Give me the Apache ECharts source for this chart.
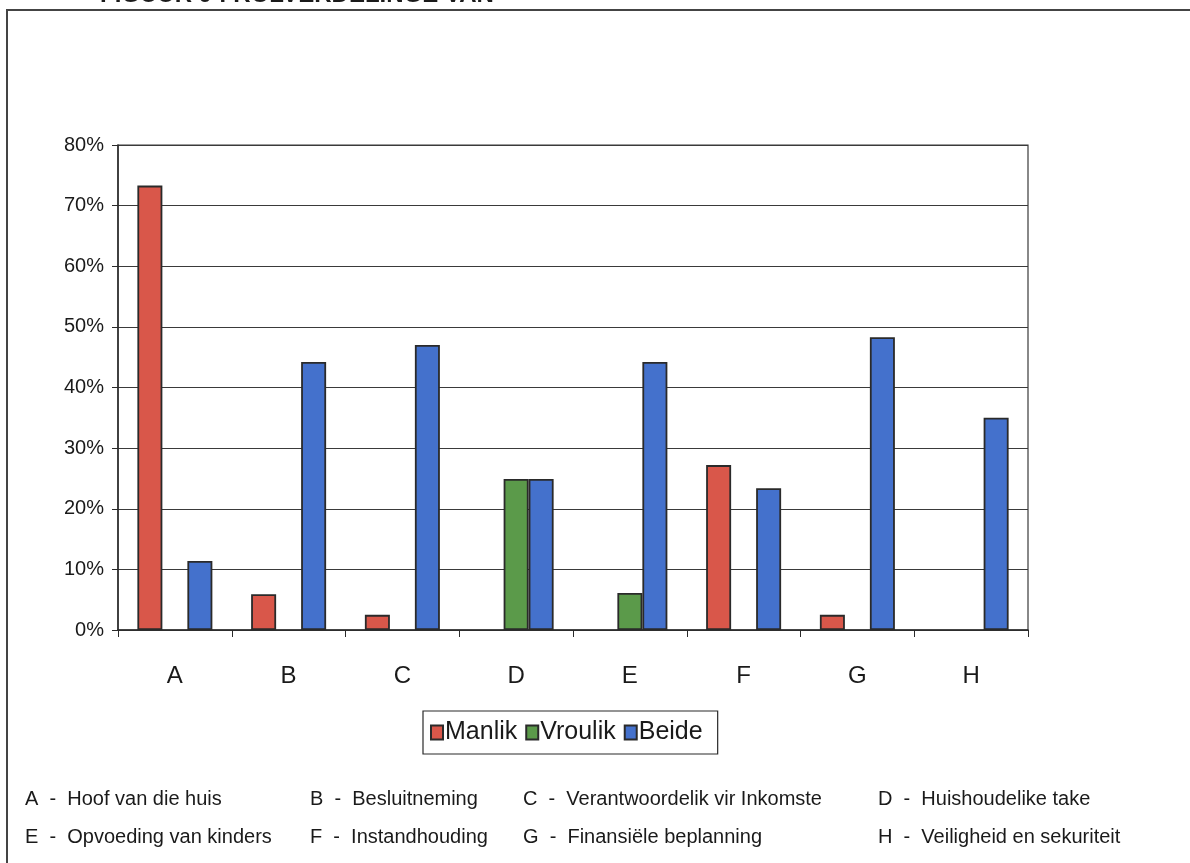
<!DOCTYPE html>
<html><head><meta charset="utf-8">
<script src="https://cdn.jsdelivr.net/npm/echarts@6/dist/echarts.min.js"></script>
<style>html,body{margin:0;padding:0;background:#fff}#c{width:1190px;height:863px}</style>
</head><body><div id="c"></div>
<script>
const categories = ['A','B','C','D','E','F','G','H'];
const manlik  = [73.3, 5.9, 2.5, null, null, 27.2, 2.5, null];
const vroulik = [null, null, null, 24.9, 6.1, null, null, null];
const beide   = [11.4, 44.2, 47.0, 24.9, 44.2, 23.4, 48.3, 35.0];
const yTicks = [0,10,20,30,40,50,60,70,80];
const descriptions = [
  'A  -  Hoof van die huis', 'B  -  Besluitneming', 'C  -  Verantwoordelik vir Inkomste', 'D  -  Huishoudelike take',
  'E  -  Opvoeding van kinders', 'F  -  Instandhouding', 'G  -  Finansiële beplanning', 'H  -  Veiligheid en sekuriteit'
];
const titleText = 'FIGUUR 9 : ROLVERDELINGE VAN';

const chart = echarts.init(document.getElementById('c'));
const font = '"Liberation Sans", Arial, sans-serif';
const colX = [25, 310, 523, 878];
const rowY = [801, 839];
const descGraphics = descriptions.map((t, i) => ({
  type: 'text', left: colX[i % 4], top: rowY[Math.floor(i / 4)] - 12,
  style: { text: t, fill: '#1a1a1a', font: '20px ' + font }
}));
const bar = (name, data, color) => ({
  name, type: 'bar', data, barWidth: 25, barGap: '0%',
  itemStyle: { color, borderColor: '#2a2a2a', borderWidth: 1.8 }
});
chart.setOption({
  animation: false,
  textStyle: { fontFamily: font },
  grid: { left: 118, right: 162, top: 145, bottom: 233, show: true, borderColor: '#3a3a3a', borderWidth: 1.2 },
  xAxis: {
    type: 'category', data: categories,
    axisLine: { lineStyle: { color: '#2a2a2a', width: 1.5 } },
    axisTick: { show: true, length: 7, lineStyle: { color: '#2a2a2a' } },
    axisLabel: { fontSize: 24, color: '#1a1a1a', margin: 34 }
  },
  yAxis: {
    type: 'value', min: 0, max: 80, interval: 10,
    axisLine: { show: true, lineStyle: { color: '#2a2a2a', width: 1.5 } },
    axisTick: { show: true, length: 6, lineStyle: { color: '#2a2a2a' } },
    splitLine: { lineStyle: { color: '#3a3a3a', width: 1.2 } },
    axisLabel: { fontSize: 20, color: '#1a1a1a', margin: 14, formatter: v => yTicks.includes(v) ? v + '%' : '' }
  },
  legend: {
    left: 423, top: 711, orient: 'horizontal',
    borderColor: '#2a2a2a', borderWidth: 1.2, padding: [9, 15, 9, 7],
    itemWidth: 12, itemHeight: 14, itemGap: 8, icon: 'rect',
    textStyle: { fontSize: 25, color: '#1a1a1a', padding: [0, 0, 0, -3] },
    data: ['Manlik', 'Vroulik', 'Beide']
  },
  graphic: [
    { type: 'rect', shape: { x: 7, y: 10, width: 1200, height: 900 }, style: { fill: 'none', stroke: '#444', lineWidth: 2 }, silent: true },
    { type: 'text', left: 100, top: -17, style: { text: titleText, fill: '#1a1a1a', font: 'bold 24px ' + font } }
  ].concat(descGraphics),
  series: [
    bar('Manlik', manlik, '#d9574a'),
    bar('Vroulik', vroulik, '#5b9a4a'),
    bar('Beide', beide, '#4471cc')
  ]
});
</script></body></html>
